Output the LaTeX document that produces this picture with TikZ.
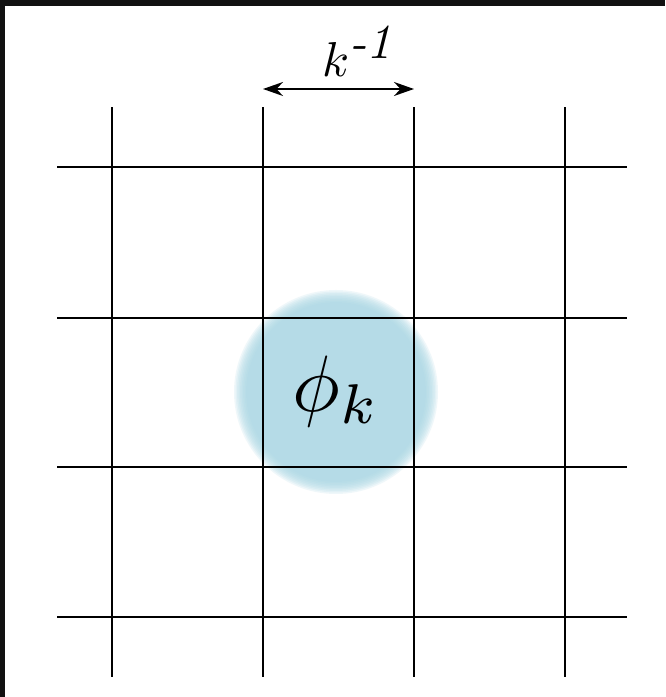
\documentclass[tikz,border=0pt]{standalone}
\usetikzlibrary{positioning,arrows.meta,calc}
\definecolor{frame}{HTML}{111111}
\definecolor{blob}{HTML}{AAD7E4}
\definecolor{ink}{HTML}{000000}

\begin{document}
\begin{tikzpicture}[
  x=1pt, y=1pt,
  >={Stealth[length=20pt, width=14pt]},
  grid/.style ={draw=ink, line width=2pt},
  span/.style ={<->, draw=ink, line width=1.7pt},
  glow/.style ={fill=blob, opacity=.18},
  lbl/.style  ={text=ink, inner sep=0pt},
]
  % --- frame ---
  \fill[frame] (0,0) rectangle (665,697);
  \fill[white] (5,0) rectangle (665,691);
  \useasboundingbox (0,0) rectangle (665,697);

  % --- blob (soft edge) ---
  \coordinate (mid) at (336,305);
  \foreach \r in {90,91.5,...,103} \fill[glow] (mid) circle (\r);

  % --- grid ---
  \foreach \x in {112,263,414,565} \draw[grid] (\x,20) -- (\x,590);
  \foreach \y in {80,230,379,530}  \draw[grid] (57,\y) -- (627,\y);

  % --- spacing k^-1 ---
  \coordinate (lft) at (263,608);
  \coordinate (rgt) at (414,608);
  \draw[span] (lft) -- (rgt);
  \node[lbl, scale=4.9, above=12pt of $(lft)!.5!(rgt)$, xshift=4pt] (kinv) {$k^{\textit{-1}}$};

  % --- field ---
  \node[lbl, scale=8] (phi) at (mid) {$\phi_k$};
\end{tikzpicture}
\end{document}
